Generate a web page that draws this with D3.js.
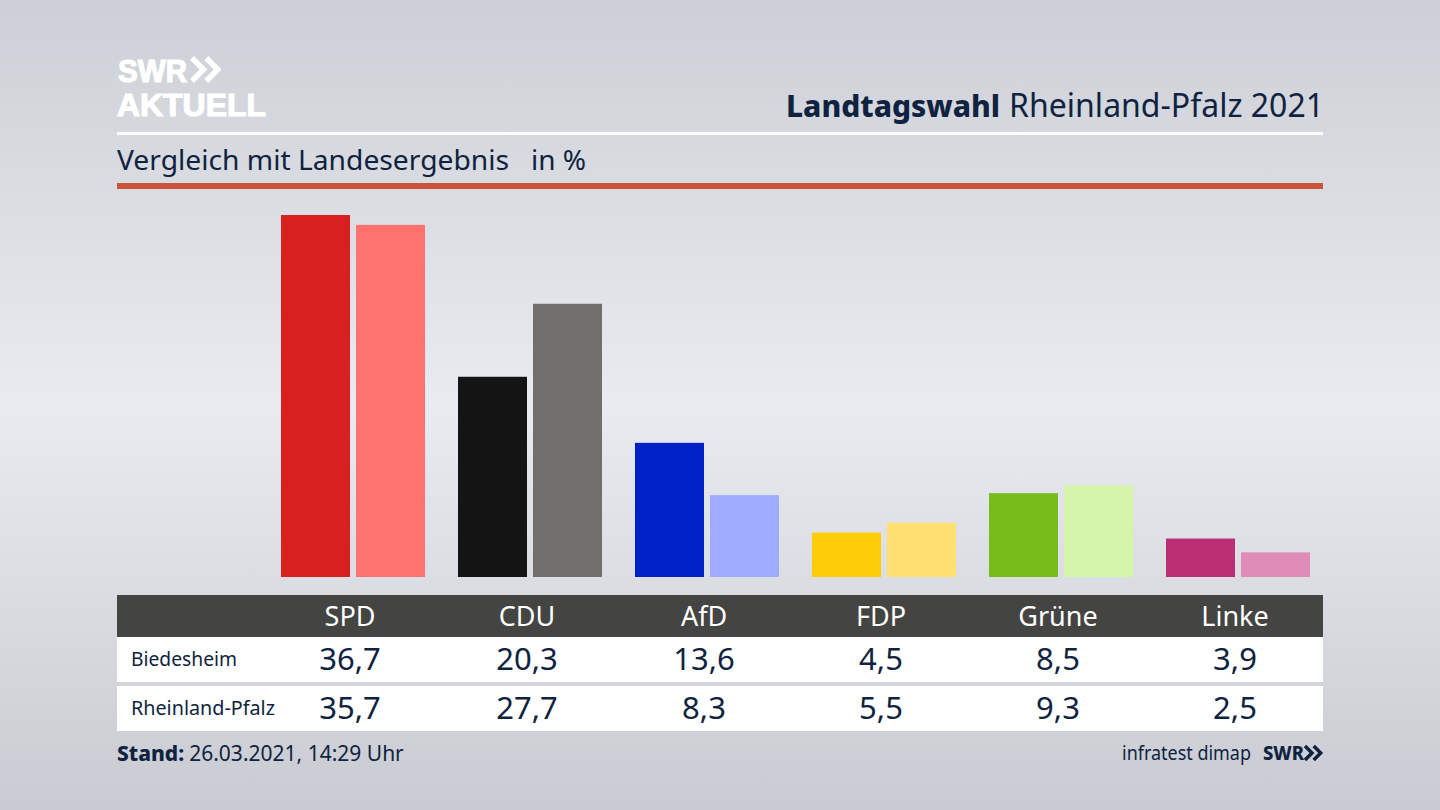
<!DOCTYPE html>
<html>
<head>
<meta charset="utf-8">
<script src="https://cdn.jsdelivr.net/npm/d3@7"></script>
<style>
html, body {margin: 0; padding: 0; background: #d5d8dd}
svg {display: block}
text {font-family: "Noto Sans", sans-serif}
</style>
</head>
<body>
<div id="chart"></div>
<script>
var parties = ['SPD', 'CDU', 'AfD', 'FDP', 'Grüne', 'Linke']
var rows = ['Biedesheim', 'Rheinland-Pfalz']
var biedesheim = [36.7, 20.3, 13.6, 4.5, 8.5, 3.9]
var landesergebnis = [35.7, 27.7, 8.3, 5.5, 9.3, 2.5]
var colorsLocal = ['#d7201f', '#141414', '#0021c8', '#ffcc0a', '#78bc1b', '#bb2e74']
var colorsState = ['#ff7270', '#706f6d', '#9eabff', '#ffe070', '#d5f5ab', '#e08cb8']

var width = 1440, height = 810
var left = 117, right = 1323
var ink = '#0f2340'
var fmt = function(v) {return v.toFixed(1).replace('.', ',')}

var svg = d3.select('#chart').append('svg')
  .attr('width', width)
  .attr('height', height)

// background
var grad = svg.append('defs').append('linearGradient')
  .attr('id', 'bg')
  .attr('x1', 0).attr('x2', 0).attr('y1', 0).attr('y2', 1)
grad.append('stop').attr('offset', '0%').attr('stop-color', '#cccfd5')
grad.append('stop').attr('offset', '50%').attr('stop-color', '#e9ebf0')
grad.append('stop').attr('offset', '100%').attr('stop-color', '#c8cbd1')
svg.append('rect').attr('width', width).attr('height', height).attr('fill', 'url(#bg)')

// logo, Liberation has a tighter line box so the two lines stay apart
svg.append('text').attr('x', 118).attr('y', 81.5)
  .style('font-family', '"Liberation Sans", sans-serif')
  .attr('font-size', 31).attr('font-weight', 700)
  .attr('fill', '#fff').attr('stroke', '#fff').attr('stroke-width', 1.2)
  .attr('textLength', 69).attr('lengthAdjust', 'spacingAndGlyphs')
  .text('SWR')
svg.append('text').attr('x', 117).attr('y', 116)
  .style('font-family', '"Liberation Sans", sans-serif')
  .attr('font-size', 31).attr('font-weight', 700)
  .attr('fill', '#fff').attr('stroke', '#fff').attr('stroke-width', 1.2)
  .attr('textLength', 149).attr('lengthAdjust', 'spacingAndGlyphs')
  .text('AKTUELL')

function chevrons(x, y, h, color, sw) {
  [0, h * 0.62].forEach(function(dx) {
    svg.append('path')
      .attr('d', d3.line()([[x + dx, y], [x + dx + h * 0.5, y + h / 2], [x + dx, y + h]]))
      .attr('fill', 'none')
      .attr('stroke', color)
      .attr('stroke-width', sw)
  })
}
chevrons(192, 58, 23, '#fff', 5.5)

// title
var title = svg.append('text').attr('x', right + 1).attr('y', 117)
  .attr('text-anchor', 'end').attr('fill', ink)
title.append('tspan').attr('font-size', 30).attr('font-weight', 800).text('Landtagswahl')
title.append('tspan').attr('dx', 9).attr('font-size', 32).text('Rheinland-Pfalz 2021')

svg.append('rect').attr('x', left).attr('y', 132).attr('width', right - left).attr('height', 3).attr('fill', '#fff')

svg.append('text').attr('x', left).attr('y', 170)
  .attr('font-size', 28).attr('fill', ink)
  .attr('textLength', 392).attr('lengthAdjust', 'spacingAndGlyphs')
  .text('Vergleich mit Landesergebnis')
svg.append('text').attr('x', 531).attr('y', 170)
  .attr('font-size', 28).attr('fill', ink)
  .text('in %')

svg.append('rect').attr('x', left).attr('y', 183).attr('width', right - left).attr('height', 6).attr('fill', '#cb553c')

// scales
var x0 = d3.scaleBand().domain(parties).range([261.5, 261.5 + 177 * 6])
var x1 = d3.scaleBand().domain([0, 1]).range([0, 144]).paddingInner(0.08)
var y = d3.scaleLinear().domain([0, 36.7]).range([577, 215])
var barOffset = 19.5

// bars
var groups = svg.selectAll('.group')
  .data(parties)
  .enter()
  .append('g')
  .attr('class', 'group')
  .attr('transform', function(d) {return 'translate(' + (x0(d) + barOffset) + ',0)'})

groups.selectAll('rect')
  .data(function(d, i) {
    return [
      {s: 0, value: biedesheim[i], color: colorsLocal[i]},
      {s: 1, value: landesergebnis[i], color: colorsState[i]}
    ]
  })
  .enter()
  .append('rect')
  .attr('x', function(d) {return x1(d.s)})
  .attr('y', function(d) {return y(d.value)})
  .attr('width', x1.bandwidth())
  .attr('height', function(d) {return y(0) - y(d.value)})
  .attr('fill', function(d) {return d.color})

// table
svg.append('rect').attr('x', left).attr('y', 595).attr('width', right - left).attr('height', 42).attr('fill', '#444442')
svg.append('rect').attr('x', left).attr('y', 637).attr('width', right - left).attr('height', 45).attr('fill', '#fff')
svg.append('rect').attr('x', left).attr('y', 686).attr('width', right - left).attr('height', 45).attr('fill', '#fff')

var axis = svg.append('g')
  .attr('transform', 'translate(0,595)')
  .call(d3.axisBottom(x0).tickSize(0).tickPadding(0))
axis.select('.domain').remove()
axis.selectAll('text')
  .attr('y', 31)
  .attr('dy', 0)
  .attr('font-size', 27)
  .attr('font-family', '"Noto Sans", sans-serif')
  .attr('fill', '#fff')

var rowBase = [670, 719]
var labelBase = [666, 715]
var labelWidth = [106, 144]
;[biedesheim, landesergebnis].forEach(function(values, r) {
  svg.append('text').attr('x', 131).attr('y', labelBase[r])
    .attr('font-size', 20).attr('fill', ink)
    .attr('textLength', labelWidth[r]).attr('lengthAdjust', 'spacingAndGlyphs')
    .text(rows[r])
  svg.selectAll('.val' + r)
    .data(values)
    .enter()
    .append('text')
    .attr('class', 'val' + r)
    .attr('x', function(d, i) {return x0(parties[i]) + x0.bandwidth() / 2})
    .attr('y', rowBase[r])
    .attr('text-anchor', 'middle')
    .attr('font-size', 31)
    .attr('fill', ink)
    .text(fmt)
})

// footer
var stand = svg.append('text').attr('x', left).attr('y', 761)
  .attr('font-size', 21).attr('fill', ink)
stand.append('tspan').attr('font-weight', 800).text('Stand:')
stand.append('tspan').attr('dx', 5).text('26.03.2021, 14:29 Uhr')

svg.append('text').attr('x', 1122).attr('y', 760)
  .attr('font-size', 20).attr('fill', ink)
  .attr('textLength', 129).attr('lengthAdjust', 'spacingAndGlyphs')
  .text('infratest dimap')
svg.append('text').attr('x', 1263).attr('y', 760)
  .attr('font-size', 20).attr('font-weight', 800).attr('fill', ink)
  .attr('textLength', 41).attr('lengthAdjust', 'spacingAndGlyphs')
  .text('SWR')
chevrons(1305, 746, 14, ink, 3.5)
</script>
</body>
</html>
